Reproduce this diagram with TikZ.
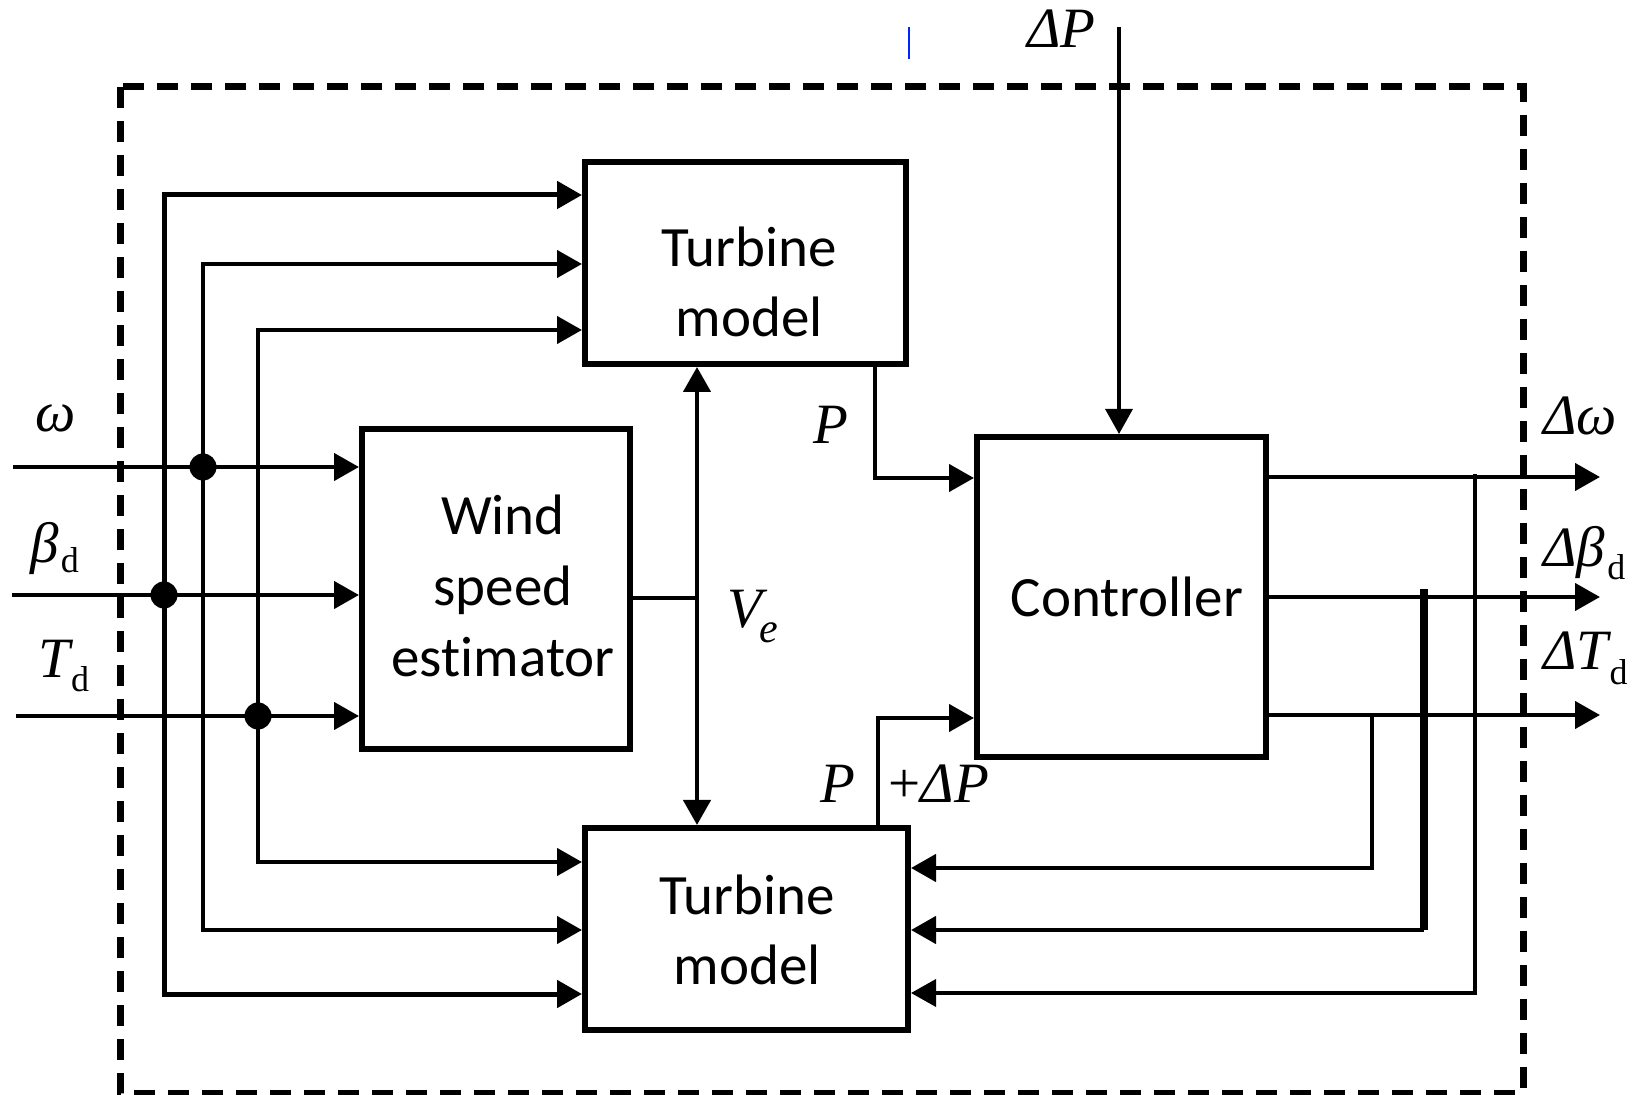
\documentclass[tikz,border=0pt]{standalone}
\usepackage{fontspec}
\setmainfont{Carlito}[Ligatures={NoCommon}]
\newfontfamily\tnr{Liberation Serif}
\usetikzlibrary{arrows.meta}
\begin{document}
\begin{tikzpicture}[x=0.5pt,y=-0.5pt,
  ln/.style={line width=2.2pt},
  arr/.style={ln,-{Triangle[length=12.5pt,width=13.5pt]}},
  darr/.style={ln,{Triangle[length=12.5pt,width=13.5pt]}-{Triangle[length=12.5pt,width=13.5pt]}},
  blk/.style={draw,line width=3pt,inner sep=0pt,rectangle},
  btxt/.style={font=\fontsize{28.5}{35}\selectfont,align=center,inner sep=0pt},
  lbl/.style={font=\fontsize{28.5}{30}\selectfont\tnr\itshape,inner sep=0pt,anchor=base west},
  jdot/.style={circle,fill,inner sep=0pt,minimum size=13.5pt},
  ]
\useasboundingbox (0,0) rectangle (1639,1095);
% frame
\draw[line width=3.5pt,dash pattern=on 10.5pt off 6.5pt] (120,87) rectangle (1523,1093);
% blocks
\node[blk,minimum width=160.5pt,minimum height=101pt] (tm1) at (745.5,263) {};
\node[blk,minimum width=134pt,minimum height=160pt] (wse) at (496,589) {};
\node[blk,minimum width=144.5pt,minimum height=160pt] (ctrl) at (1121.5,597) {};
\node[blk,minimum width=161.5pt,minimum height=101pt] (tm2) at (746.5,929) {};
\node[btxt] (tm1t) at (749,282) {Turbine\\model};
\node[btxt,font=\fontsize{28.5}{35.5}\selectfont] (wset) at (503,586) {Wind\\speed\\estimator};
\node[btxt] (ctrlt) at (1127,597) {Controller};
\node[btxt] (tm2t) at (747,930) {Turbine\\model};
% inputs
\coordinate (inW) at (13,467);
\coordinate (inB) at (12,595);
\coordinate (inT) at (16,716);
\draw[arr] (inW) -- (inW -| wse.west);
\draw[arr] (inB) -- (inB -| wse.west);
\draw[arr] (inT) -- (inT -| wse.west);
\node[jdot] (dW) at (203,467) {};
\node[jdot] (dB) at (164,595) {};
\node[jdot] (dT) at (258,716) {};
% distribution lines
\coordinate (a1) at (164,195); \coordinate (a1b) at (164,994);
\coordinate (a2) at (203,264); \coordinate (a2b) at (203,930);
\coordinate (a3) at (258,330); \coordinate (a3b) at (258,862);
\draw[darr,line width=2.5pt] (a1 -| tm1.west) -- (a1) -- (a1b) -- (a1b -| tm2.west);
\draw[darr] (a2 -| tm1.west) -- (a2) -- (a2b) -- (a2b -| tm2.west);
\draw[darr] (a3 -| tm1.west) -- (a3) -- (a3b) -- (a3b -| tm2.west);
% wind speed estimate
\coordinate (ve) at (697,598);
\draw[darr] (ve |- tm1.south) -- (ve |- tm2.north);
\draw[ln] (wse.east |- ve) -- (ve);
% powers
\coordinate (pc) at (875,478);
\draw[arr] (pc |- tm1.south) -- (pc) -- (pc -| ctrl.west);
\coordinate (pdc) at (878,718);
\draw[arr] (pdc |- tm2.north) -- (pdc) -- (pdc -| ctrl.west);
\coordinate (dpc) at (1119,27);
\draw[arr,line width=1.7pt] (dpc) -- (dpc |- ctrl.north);
% outputs
\coordinate (oW) at (1600,477);
\coordinate (oB) at (1600,597);
\coordinate (oT) at (1600,715);
\draw[arr] (oW -| ctrl.east) -- (oW);
\draw[arr] (oB -| ctrl.east) -- (oB);
\draw[arr] (oT -| ctrl.east) -- (oT);
% feedback
\coordinate (fT) at (1372,715); \coordinate (fTb) at (1372,868);
\coordinate (fB) at (1424,589); \coordinate (fBb) at (1424,930);
\coordinate (fW) at (1475,474); \coordinate (fWb) at (1475,993);
\draw[arr] (fT) -- (fTb) -- (fTb -| tm2.east);
\draw[line width=4.2pt] (fB) -- (fBb);
\draw[arr] (fBb) -- (fBb -| tm2.east);
\draw[arr,line width=1.9pt] (fW) -- (fWb) -- (fWb -| tm2.east);
% stray mark
\coordinate (bm1) at (909,27); \coordinate (bm2) at (909,59);
\draw[blue!85!cyan,line width=1pt] (bm1) -- (bm2);
% labels
\node[lbl] (lw) at (35,432) {ω};
\node[lbl] (lb) at (30,563) {β\kern1pt{\upshape\fontsize{18}{18}\selectfont\raisebox{-5pt}{d}}};
\node[lbl] (lt) at (38,678) {T\kern0.5pt{\upshape\fontsize{18}{18}\selectfont\raisebox{-7pt}{d}}};
\node[lbl] (ldw) at (1543,435) {Δω};
\node[lbl] (ldb) at (1543,567) {Δβ\kern1pt{\upshape\fontsize{18}{18}\selectfont\raisebox{-6.5pt}{d}}};
\node[lbl] (ldt) at (1543,670) {ΔT\kern0.5pt{\upshape\fontsize{18}{18}\selectfont\raisebox{-7.5pt}{d}}};
\node[lbl] (ldp) at (1027,48) {ΔP};
\node[lbl] (lp) at (813,444) {P};
\node[lbl] (lve) at (727,628) {V\kern-1.5pt{\fontsize{21}{21}\selectfont\raisebox{-7.5pt}{e}}};
\node[lbl] (lp2) at (820,803) {P};
\node[lbl] (lp3) at (888,803) {{\upshape +}ΔP};
\end{tikzpicture}
\end{document}
